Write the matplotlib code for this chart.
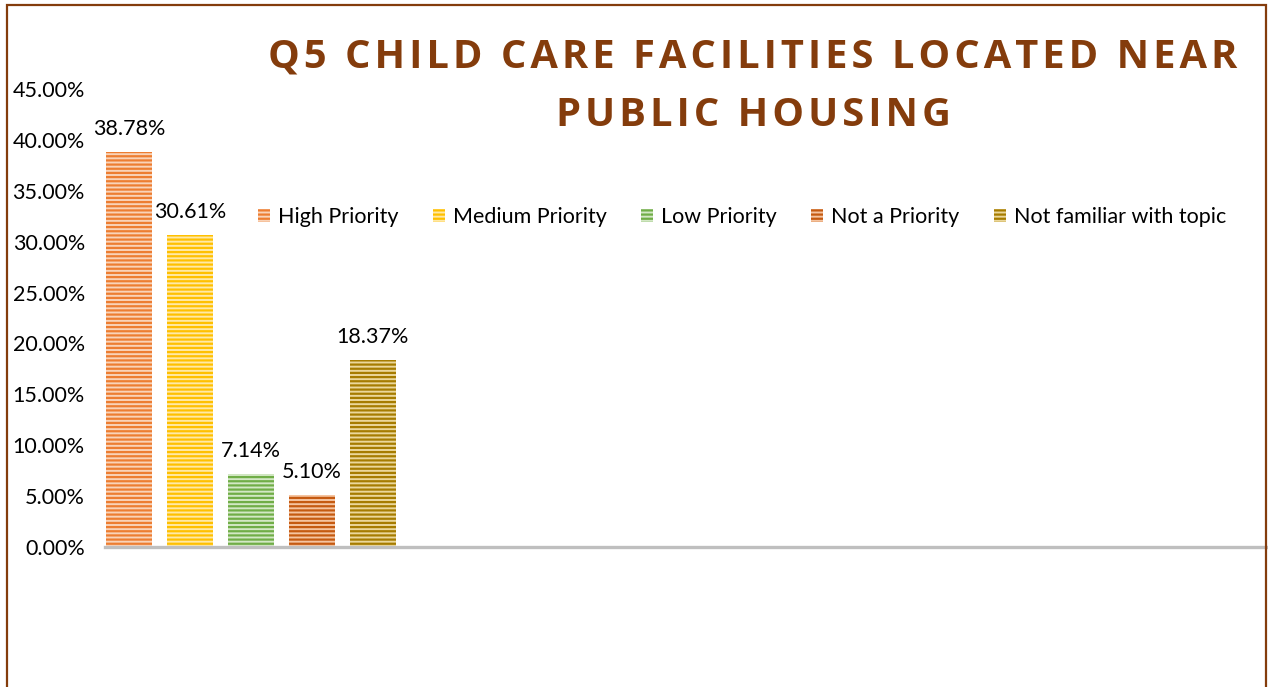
import matplotlib
matplotlib.use("Agg")
import matplotlib.pyplot as plt
from matplotlib.patches import Rectangle, Patch

categories = ["High Priority", "Medium Priority", "Low Priority", "Not a Priority", "Not familiar with topic"]
values = [38.78, 30.61, 7.14, 5.10, 18.37]
labels = ["38.78%", "30.61%", "7.14%", "5.10%", "18.37%"]
yticks = [0, 5, 10, 15, 20, 25, 30, 35, 40, 45]
ytick_labels = ["0.00%", "5.00%", "10.00%", "15.00%", "20.00%", "25.00%", "30.00%", "35.00%", "40.00%", "45.00%"]
title_lines = ["Q5 CHILD CARE FACILITIES LOCATED NEAR", "PUBLIC HOUSING"]

stripe_colors = ["#ED7D31", "#FFC000", "#70AD47", "#C55A11", "#A67C00"]
fill_colors = ["#F9D3B8", "#FFE9A6", "#D3E8C5", "#F5C4A0", "#EBD79A"]

plt.rcParams['hatch.linewidth'] = 1.6
FONT = ['Lato', 'DejaVu Sans']
FS = 15.5

fig = plt.figure(figsize=(12.68, 6.87), dpi=100)
ax = fig.add_axes([105/1268, (687-547)/687, (1266-105)/1268, (547-89)/687])

xs = list(range(len(values)))
for x, v, sc, fc in zip(xs, values, stripe_colors, fill_colors):
    ax.bar(x, v, width=0.755, color=fc, edgecolor=sc, hatch='----', linewidth=0, zorder=2)

for x, v, lab in zip(xs, values, labels):
    ax.annotate(lab, (x, v), xytext=(0, 23), textcoords='offset pixels', ha='center', va='center',
                fontsize=FS, family=FONT, color='#000000')

ax.set_ylim(0, 45)
ax.set_xlim(-0.393, -0.393 + (1266-105)/61)
ax.set_yticks(yticks)
ax.set_yticklabels(ytick_labels, fontsize=FS, family=FONT)
ax.tick_params(axis='y', length=0, pad=14.5)
ax.tick_params(axis='x', length=0, labelbottom=False)
for s in ['top', 'right', 'left']:
    ax.spines[s].set_visible(False)
ax.spines['bottom'].set_color('#BFBFBF')
ax.spines['bottom'].set_linewidth(2.4)
ax.spines['bottom'].set_zorder(3)

handles = [Patch(facecolor=fc, edgecolor=sc, hatch='----', linewidth=0) for sc, fc in zip(stripe_colors, fill_colors)]
fig.legend(handles, categories, loc='center', bbox_to_anchor=(742/1268, 1 - 217/687), ncol=5,
           frameon=False, prop={'family': FONT, 'size': FS}, handlelength=0.56, handleheight=0.56,
           handletextpad=0.37, columnspacing=1.6)

spaced = "\n".join("\u200a".join(line) for line in title_lines)
fig.text(753/1268, 1 - 86/687, spaced, ha='center', va='center', fontsize=28.7, fontweight='bold',
         color='#843C0C', family=['Open Sans', 'DejaVu Sans'], linespacing=1.64)

fig.patches.append(Rectangle((7/1268, -0.05), (1266-7)/1268, (687-5)/687 + 0.05, transform=fig.transFigure,
                             fill=False, edgecolor='#843C0C', linewidth=1.6, figure=fig))

fig.savefig('out.png', dpi=100)
